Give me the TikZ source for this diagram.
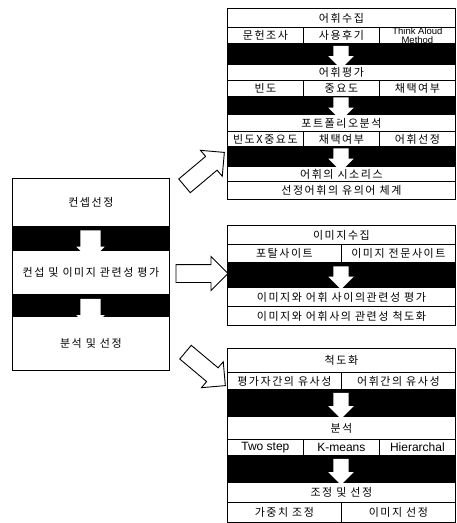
\documentclass[tikz,border=0pt]{standalone}
\usepackage{fontspec}
\setmainfont[LetterSpace=14]{Noto Sans CJK KR}
\newfontfamily\lat{Liberation Sans}
\usetikzlibrary{shapes.arrows}
\tikzset{
  % 표
  cell/.style 2 args={draw=black,line width=0.8pt,fill=white,inner sep=0pt,
    anchor=north west,minimum width=#1,minimum height=#2,
    font=\fontsize{11}{12}\selectfont},
  band/.style 2 args={draw=black,fill=black,line width=0.8pt,inner sep=0pt,
    anchor=north west,minimum width=#1,minimum height=#2},
  en/.style={font=\lat\fontsize{12}{12}\selectfont},
  % 화살표
  dn/.style={single arrow,fill=white,draw=none,inner sep=7.5pt,
    single arrow head extend=5pt,minimum height=#1,shape border rotate=270},
  dnw/.style={dn=#1,inner sep=10pt,single arrow head extend=4pt},
  big/.style={single arrow,fill=white,draw=black,line width=0.9pt,
    inner sep=8.5pt,single arrow head extend=8pt,minimum height=52pt,
    rotate=#1},
}

\begin{document}
\begin{tikzpicture}[x=1pt,y=-1pt]
\useasboundingbox (0,0) rectangle (456,523);
  % 왼쪽
  \node[cell={157pt}{48pt}] (k1) at (12,178) {컨셉선정};
  \node[band={157pt}{24pt}] (kb1) at (12,226) {};
  \node[cell={157pt}{44pt}] (k2) at (12,250) {컨섭 및 이미지 관련성 평가};
  \node[band={157pt}{22pt}] (kb2) at (12,294) {};
  \node[cell={157pt}{54pt}] (k3) at (12,316) {분석 및 선정};
  \node[dnw=23pt] (ka1) at (90.5,240.5) {};
  \node[dnw=24pt] (ka2) at (90.5,309) {};
  % 어휘
  \node[cell={228pt}{19pt}] (a1) at (227,8) {어휘수집};
  \node[cell={76pt}{16pt}] (a1l) at (227,27) {문헌조사};
  \node[cell={76pt}{16pt}] (a1m) at (303,27) {사용후기};
  \node[cell={76pt}{16pt},font=\lat\fontsize{9.5}{9.5}\selectfont,align=center]
    (a1r) at (379,27) {Think Aloud\\Method};
  \node[band={228pt}{21pt}] (ab1) at (227,43) {};
  \node[cell={228pt}{16pt}] (a2) at (227,64) {어휘평가};
  \node[cell={76pt}{16pt}] (a2l) at (227,80) {빈도};
  \node[cell={76pt}{16pt}] (a2m) at (303,80) {중요도};
  \node[cell={76pt}{16pt}] (a2r) at (379,80) {채택여부};
  \node[band={228pt}{18pt}] (ab2) at (227,96) {};
  \node[cell={228pt}{17pt}] (a3) at (227,114) {포트폴리오분석};
  \node[cell={76pt}{15pt}] (a3l) at (227,131) {빈도X중요도};
  \node[cell={76pt}{15pt}] (a3m) at (303,131) {채택여부};
  \node[cell={76pt}{15pt}] (a3r) at (379,131) {어휘선정};
  \node[band={228pt}{20pt}] (ab3) at (227,146) {};
  \node[cell={228pt}{15pt}] (a4) at (227,166) {어휘의 시소리스};
  \node[cell={228pt}{18pt}] (a5) at (227,181) {선정어휘의 유의어 체계};
  \node[dn=20pt] (aa1) at (341,53.5) {};
  \node[dn=18pt] (aa2) at (341,105) {};
  \node[dn=20pt] (aa3) at (341,156) {};
  % 이미지
  \node[cell={228pt}{19pt}] (b1) at (227,225) {이미지수집};
  \node[cell={114pt}{18pt}] (b1l) at (227,244) {포탈사이트};
  \node[cell={114pt}{18pt}] (b1r) at (341,244) {이미지 전문사이트};
  \node[band={228pt}{25pt}] (bb1) at (227,262) {};
  \node[cell={228pt}{19pt}] (b2) at (227,287) {이미지와 어휘 사이의관련성 평가};
  \node[cell={228pt}{19pt}] (b3) at (227,306) {이미지와 어휘사의 관련성 척도화};
  \node[dn=23pt] (ba1) at (341,274) {};
  % 분석
  \node[cell={228pt}{24pt}] (c1) at (227,348) {척도화};
  \node[cell={114pt}{17pt}] (c1l) at (227,372) {평가자간의 유사성};
  \node[cell={114pt}{17pt}] (c1r) at (341,372) {어휘간의 유사성};
  \node[band={228pt}{27pt}] (cb1) at (227,389) {};
  \node[cell={228pt}{23pt}] (c2) at (227,416) {분석};
  \node[cell={76pt}{16pt},en] (c2l) at (227,439) {Two step};
  \node[cell={76pt}{16pt},en] (c2m) at (303,439) {K-means};
  \node[cell={76pt}{16pt},en] (c2r) at (379,439) {Hierarchal};
  \node[band={228pt}{27pt}] (cb2) at (227,455) {};
  \node[cell={228pt}{20pt}] (c3) at (227,482) {조정 및 선정};
  \node[cell={114pt}{20pt}] (c3l) at (227,502) {가중치 조정};
  \node[cell={114pt}{20pt}] (c3r) at (341,502) {이미지 선정};
  \node[dn=26pt] (ca1) at (341,402) {};
  \node[dn=26pt] (ca2) at (341,468) {};
  % 연결
  \node[big=40] (toA) at (201,172) {};
  \node[big=0] (toB) at (197.5,273.5) {};
  \node[big=-40] (toC) at (202,366) {};
\end{tikzpicture}
\end{document}
